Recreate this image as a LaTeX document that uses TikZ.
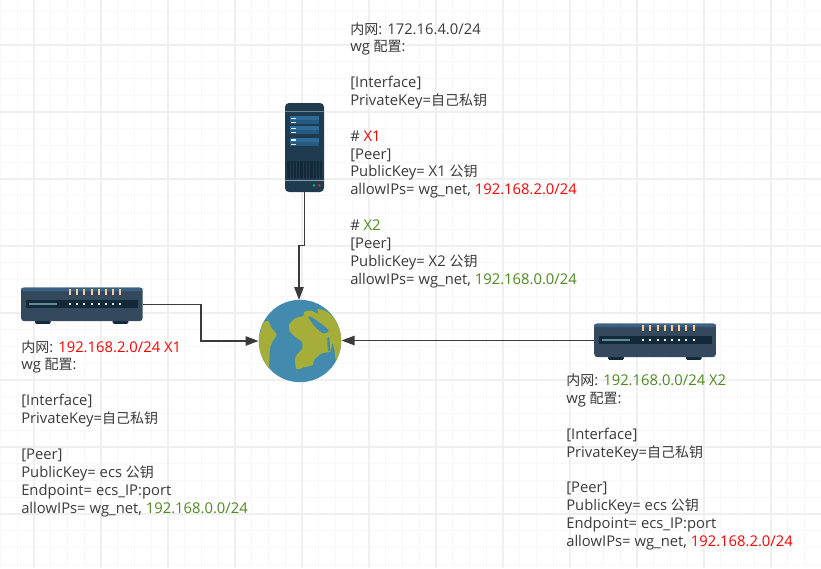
\documentclass[tikz,border=0pt]{standalone}
\usepackage{fontspec}
\setmainfont{Open Sans}
\newfontfamily\cjk[Scale=0.946]{Noto Sans CJK SC}
\usetikzlibrary{arrows.meta}
\definecolor{txt}{HTML}{3A3A3A}
\definecolor{redt}{HTML}{FF0000}
\definecolor{grnt}{HTML}{4D8A1E}
\definecolor{gridmin}{HTML}{F7F7F7}
\definecolor{gridmaj}{HTML}{EFEFEF}
\definecolor{navy}{HTML}{34495E}
\definecolor{navytop}{HTML}{3C6186}
\definecolor{dark}{HTML}{12293A}
\definecolor{srv}{HTML}{1F3B4F}
\definecolor{srvb}{HTML}{2F6A98}
\definecolor{srvc}{HTML}{275A80}
\definecolor{ocean}{HTML}{428BAE}
\definecolor{land}{HTML}{A4AE39}
\definecolor{lamp}{HTML}{F6CE9B}
\definecolor{slider}{HTML}{5E8C96}
\newcommand{\zh}[1]{{\cjk #1}}
\newcommand{\rd}[1]{\textcolor{redt}{#1}}
\newcommand{\gr}[1]{\textcolor{grnt}{#1}}
\tikzset{
  x=0.75pt,y=-0.75pt,
  label text/.style={anchor=north west,align=left,inner sep=0pt,text=txt,font=\fontsize{11.1pt}{13.4pt}\selectfont},
  link/.style={draw=txt,line width=1.2pt,-{Triangle[length=9.75pt,width=7pt]}},
  foot/.style={fill=dark,draw=none}
}
\newcommand{\router}[4]{% x, y, name, exit y offset
  \begin{scope}[shift={(#1,#2)}]
    \fill[foot,rounded corners=1pt] (14,30) rectangle (29.7,36.4);
    \fill[foot,rounded corners=1pt] (91.7,30) rectangle (107.3,36.4);
    \fill[navy,rounded corners=2.5pt] (0,0) rectangle (121.7,33.7);
    \fill[navytop,rounded corners=2pt] (0,0) rectangle (121.7,3.5);
    \fill[dark] (5,12.7) rectangle (117.3,20.4);
    \fill[slider] (8,15.7) rectangle (35.7,17.7);
    \foreach \k in {0,...,7}{
      \fill[lamp] ({48+\k*7.2},1) rectangle ({50+\k*7.2},7.7);
      \fill[white] ({48+\k*7.2},15.7) rectangle ({50+\k*7.2},17.7);
    }
    \coordinate (#3) at (#4,17);
  \end{scope}
}
\begin{document}
\begin{tikzpicture}
\useasboundingbox (0,0) rectangle (821,568);
\fill[white] (0,0) rectangle (821,568);
\foreach \k in {0,...,49}{
  \draw[gridmin,line width=0.75pt] ({0.5+\k*16.75},0) -- ({0.5+\k*16.75},568);
}
\foreach \k in {0,...,34}{
  \draw[gridmin,line width=0.75pt] (0,{11.5+\k*16.75}) -- (821,{11.5+\k*16.75});
}
\foreach \k in {0,...,12}{
  \draw[gridmaj,line width=0.9pt] ({34+\k*67},0) -- ({34+\k*67},568);
}
\foreach \k in {0,...,8}{
  \draw[gridmaj,line width=0.9pt] (0,{45+\k*67}) -- (821,{45+\k*67});
}

% server
\fill[srv,rounded corners=3pt] (285,103) rectangle (324,192);
\fill[srv!65!white] (285,110.5) rectangle (324,111.5);
\fill[srv!50!white] (285,179.5) rectangle (324,180.5);
\foreach \yy in {116,126,137.7}{
  \fill[srvb] (290,\yy) rectangle (319,\yy+4);
  \fill[srvc] (290,\yy+4) rectangle (319,\yy+8.3);
  \fill[white!88!srvb] (291,\yy+1.7) rectangle (296,\yy+2.9);
  \fill[white!88!srvb] (291,\yy+5.9) rectangle (296,\yy+7.1);
}
\fill[dark] (287.3,160.7) rectangle (321.7,178.3);
\foreach \k in {0,...,9}{\fill[srv] ({289.5+\k*3.3},160.7) rectangle ({290.5+\k*3.3},178.3);}
\fill[green!45!teal!85!gray] (314,185.3) circle (1.5);
\fill[red!65!gray] (319.3,185.3) circle (1.5);
\coordinate (srvS) at (304.5,192);

% routers
\router{21}{287.5}{r1E}{121.7}
\router{594.2}{323.5}{r2W}{0}

% globe
\fill[ocean] (300,341) circle (41.2);
\begin{scope}
\clip (300,341) circle (41.2);
\begin{scope}[shift={(240,290)},x=0.25pt,y=-0.25pt]
\fill[land] plot[smooth cycle,tension=0.45] coordinates {(147,105) (165,85) (190,78) (193,65) (215,62) (235,72) (232,58) (250,60) (270,72) (290,95) (305,130) (305,170) (295,195) (288,215) (284,185) (278,160) (270,185) (245,190) (222,210) (218,225) (190,232) (170,238) (165,210) (170,195) (187,175) (185,155) (165,140) (150,125)};
\fill[ocean] plot[smooth cycle,tension=0.5] coordinates {(205,80) (225,88) (265,120) (250,130) (225,110)};
\fill[ocean] plot[smooth cycle,tension=0.5] coordinates {(262,145) (268,145) (270,180) (264,180)};
\fill[land] plot[smooth cycle,tension=0.5] coordinates {(55,150) (62,125) (65,100) (85,93) (92,110) (110,135) (100,150) (90,175) (85,235) (65,200)};
\end{scope}
\end{scope}
\coordinate (gN) at (299,300);
\coordinate (gW) at (258.5,341);
\coordinate (gE) at (341.5,340.5);

% links
\draw[link] (srvS) -- (304.5,245.5) -- (299,245.5) -- (gN);
\draw[link] (r1E) -- (200.8,304.5) -- (200.8,341) -- (gW);
\draw[link] (r2W) -- (gE);

% texts
\node[label text] (t0) at (350,22) {\zh{内网}: 172.16.4.0/24\\wg \zh{配置}:\\[13.4pt][Interface]\\PrivateKey=\zh{自己私钥}\\[13.4pt]\# \rd{X1}\\{[}Peer]\\PublicKey= X1 \zh{公钥}\\allowIPs= wg\_net, \rd{192.168.2.0/24}\\[13.4pt]\# \gr{X2}\\{[}Peer]\\PublicKey= X2 \zh{公钥}\\allowIPs= wg\_net, \gr{192.168.0.0/24}};
\node[label text] (t1) at (21,340) {\zh{内网}: \rd{192.168.2.0/24 X1}\\wg \zh{配置}:\\[13.6pt][Interface]\\PrivateKey=\zh{自己私钥}\\[13.6pt][Peer]\\PublicKey= ecs \zh{公钥}\\Endpoint= ecs\_IP:port\\allowIPs= wg\_net, \gr{192.168.0.0/24}};
\node[label text] (t2) at (566,373.5) {\zh{内网}: \gr{192.168.0.0/24 X2}\\wg \zh{配置}:\\[13.4pt][Interface]\\PrivateKey=\zh{自己私钥}\\[13.4pt][Peer]\\PublicKey= ecs \zh{公钥}\\Endpoint= ecs\_IP:port\\allowIPs= wg\_net, \rd{192.168.2.0/24}};
\end{tikzpicture}
\end{document}
